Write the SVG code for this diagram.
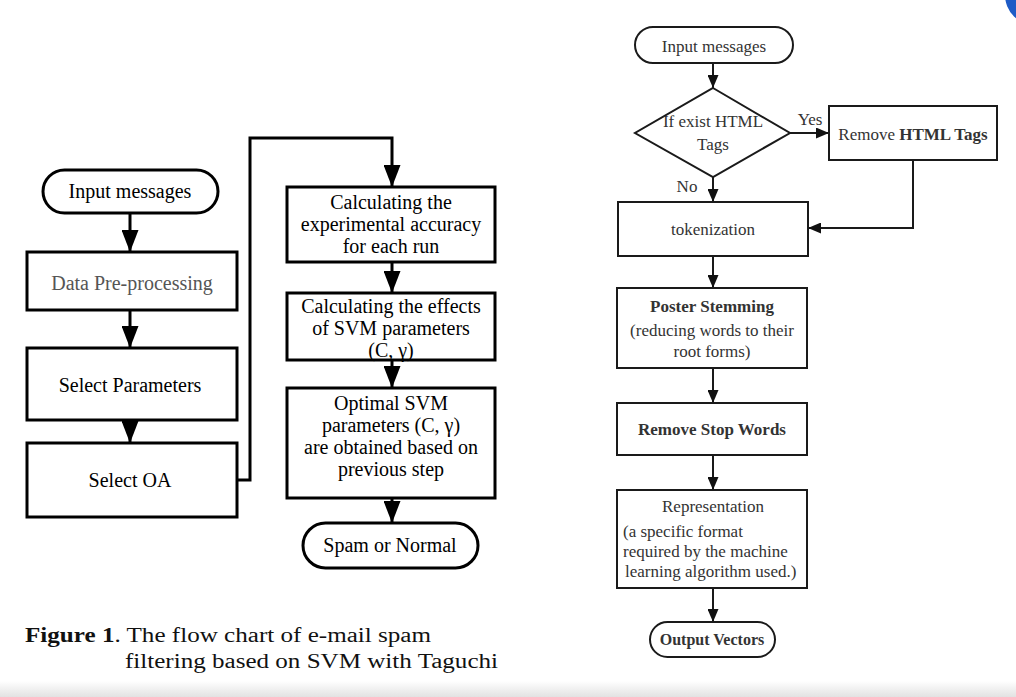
<svg xmlns="http://www.w3.org/2000/svg" width="1016" height="697" viewBox="0 0 1016 697">
<defs>
<marker id="ahL" viewBox="0 0 22 17" refX="22" refY="8.5" markerWidth="22" markerHeight="17" markerUnits="userSpaceOnUse" orient="auto"><path d="M0,0 L22,8.5 L0,17 z" fill="#000"/></marker>
<marker id="ahR" viewBox="0 0 13 11" refX="13" refY="5.5" markerWidth="13" markerHeight="11" markerUnits="userSpaceOnUse" orient="auto"><path d="M0,0 L13,5.5 L0,11 z" fill="#111"/></marker>
<linearGradient id="band" x1="0" y1="0" x2="0" y2="1"><stop offset="0" stop-color="#ffffff"/><stop offset="1" stop-color="#e2e2e2"/></linearGradient>
</defs>
<style>
.bl{fill:#fff;stroke:#000;stroke-width:3}
.br{fill:#fff;stroke:#1a1a1a;stroke-width:2}
.cl{fill:none;stroke:#000;stroke-width:3}
.cr{fill:none;stroke:#1a1a1a;stroke-width:2}
.tl{font-family:"Liberation Serif","Times New Roman",serif;font-size:20px;fill:#000;text-anchor:middle}
.tm{font-family:"Liberation Serif","Times New Roman",serif;font-size:20px;fill:#000;text-anchor:middle}
.tr{font-family:"Liberation Serif","Times New Roman",serif;font-size:17px;fill:#333;text-anchor:middle}
.b{font-weight:bold}
.cap{font-family:"Liberation Serif","Times New Roman",serif;font-size:20px;fill:#111}
</style>
<rect x="0" y="0" width="1016" height="697" fill="#fff"/>
<circle cx="1035" cy="-5" r="30" fill="#1e5bc6"/>
<rect x="0" y="681" width="1016" height="16" fill="url(#band)"/>

<g id="connectors">
<line class="cl" x1="130" y1="213" x2="130" y2="252" marker-end="url(#ahL)"/>
<line class="cl" x1="130" y1="310" x2="130" y2="348" marker-end="url(#ahL)"/>
<line class="cl" x1="130" y1="420" x2="130" y2="443" marker-end="url(#ahL)"/>
<polyline class="cl" points="237,480 250,480 250,138 392,138 392,187" marker-end="url(#ahL)"/>
<line class="cl" x1="392" y1="262" x2="392" y2="293" marker-end="url(#ahL)"/>
<line class="cl" x1="392" y1="360" x2="392" y2="388" marker-end="url(#ahL)"/>
<line class="cl" x1="392" y1="498" x2="392" y2="523" marker-end="url(#ahL)"/>

<line class="cr" x1="713" y1="63" x2="713" y2="88" marker-end="url(#ahR)"/>
<line class="cr" x1="713" y1="177" x2="713" y2="202" marker-end="url(#ahR)"/>
<line class="cr" x1="790" y1="133" x2="829" y2="133" marker-end="url(#ahR)"/>
<polyline class="cr" points="913,160 913,228 808,228" marker-end="url(#ahR)"/>
<line class="cr" x1="713" y1="256" x2="713" y2="288" marker-end="url(#ahR)"/>
<line class="cr" x1="713" y1="368" x2="713" y2="403" marker-end="url(#ahR)"/>
<line class="cr" x1="713" y1="455" x2="713" y2="490" marker-end="url(#ahR)"/>
<line class="cr" x1="713" y1="588" x2="713" y2="622" marker-end="url(#ahR)"/>
<text class="tr" x="810" y="125">Yes</text>
<text class="tr" x="687" y="192">No</text>
</g>

<g id="l-input"><rect class="bl" x="43" y="170" width="175" height="43" rx="21.5"/><text class="tl" x="130" y="198">Input messages</text></g>
<g id="l-prep"><rect class="bl" x="27" y="252" width="210" height="58"/><text class="tl" x="132" y="290" style="fill:#555">Data Pre-processing</text></g>
<g id="l-params"><rect class="bl" x="27" y="348" width="210" height="72"/><text class="tl" x="130" y="392">Select Parameters</text></g>
<g id="l-oa"><rect class="bl" x="27" y="443" width="210" height="74"/><text class="tl" x="130" y="487">Select OA</text></g>

<g id="m-acc"><rect class="bl" x="287" y="187" width="208" height="75"/>
<text class="tm" x="391" y="209">Calculating the</text>
<text class="tm" x="391" y="231">experimental accuracy</text>
<text class="tm" x="391" y="253">for each run</text></g>
<g id="m-effects"><rect class="bl" x="287" y="293" width="208" height="67"/>
<text class="tm" x="391" y="313">Calculating the effects</text>
<text class="tm" x="391" y="335">of SVM parameters</text>
<text class="tm" x="391" y="357">(C, γ)</text></g>
<g id="m-optimal"><rect class="bl" x="287" y="388" width="208" height="110"/>
<text class="tm" x="391" y="410">Optimal SVM</text>
<text class="tm" x="391" y="432">parameters (C, γ)</text>
<text class="tm" x="391" y="454">are obtained based on</text>
<text class="tm" x="391" y="476">previous step</text></g>
<g id="m-spam"><rect class="bl" x="303" y="523" width="175" height="45" rx="22.5"/><text class="tm" x="390" y="552">Spam or Normal</text></g>

<g id="r-input"><rect class="br" x="635" y="27" width="158" height="36" rx="18"/><text class="tr" x="714" y="52">Input messages</text></g>
<g id="r-html"><polygon class="br" points="713,88 790,133 713,177 635,133"/>
<text class="tr" x="713" y="127">If exist HTML</text>
<text class="tr" x="713" y="150">Tags</text></g>
<g id="r-remove"><rect class="br" x="829" y="106" width="168" height="54"/><text class="tr" x="913" y="140">Remove <tspan class="b">HTML Tags</tspan></text></g>
<g id="r-token"><rect class="br" x="618" y="202" width="190" height="54"/><text class="tr" x="713" y="235">tokenization</text></g>
<g id="r-stem"><rect class="br" x="617" y="288" width="190" height="80"/>
<text class="tr b" x="712" y="312">Poster Stemming</text>
<text class="tr" x="712" y="336">(reducing words to their</text>
<text class="tr" x="712" y="357">root forms)</text></g>
<g id="r-stop"><rect class="br" x="617" y="403" width="190" height="52"/><text class="tr b" x="712" y="435">Remove Stop Words</text></g>
<g id="r-repr"><rect class="br" x="617" y="490" width="190" height="98"/>
<text class="tr" x="713" y="512">Representation</text>
<text class="tr" x="623" y="537" style="text-anchor:start">(a specific format</text>
<text class="tr" x="623" y="557" style="text-anchor:start">required by the machine</text>
<text class="tr" x="625" y="577" style="text-anchor:start">learning algorithm used.)</text></g>
<g id="r-output"><rect class="br" x="650" y="622" width="125" height="35" rx="17.5"/><text class="tr b" x="712" y="645" style="font-size:16px">Output Vectors</text></g>

<g id="caption">
<text class="cap" x="25" y="642" textLength="406" lengthAdjust="spacingAndGlyphs"><tspan font-weight="bold">Figure 1</tspan>. The flow chart of e-mail spam</text>
<text class="cap" x="125" y="668" textLength="373" lengthAdjust="spacingAndGlyphs">filtering based on SVM with Taguchi</text>
</g>
</svg>
